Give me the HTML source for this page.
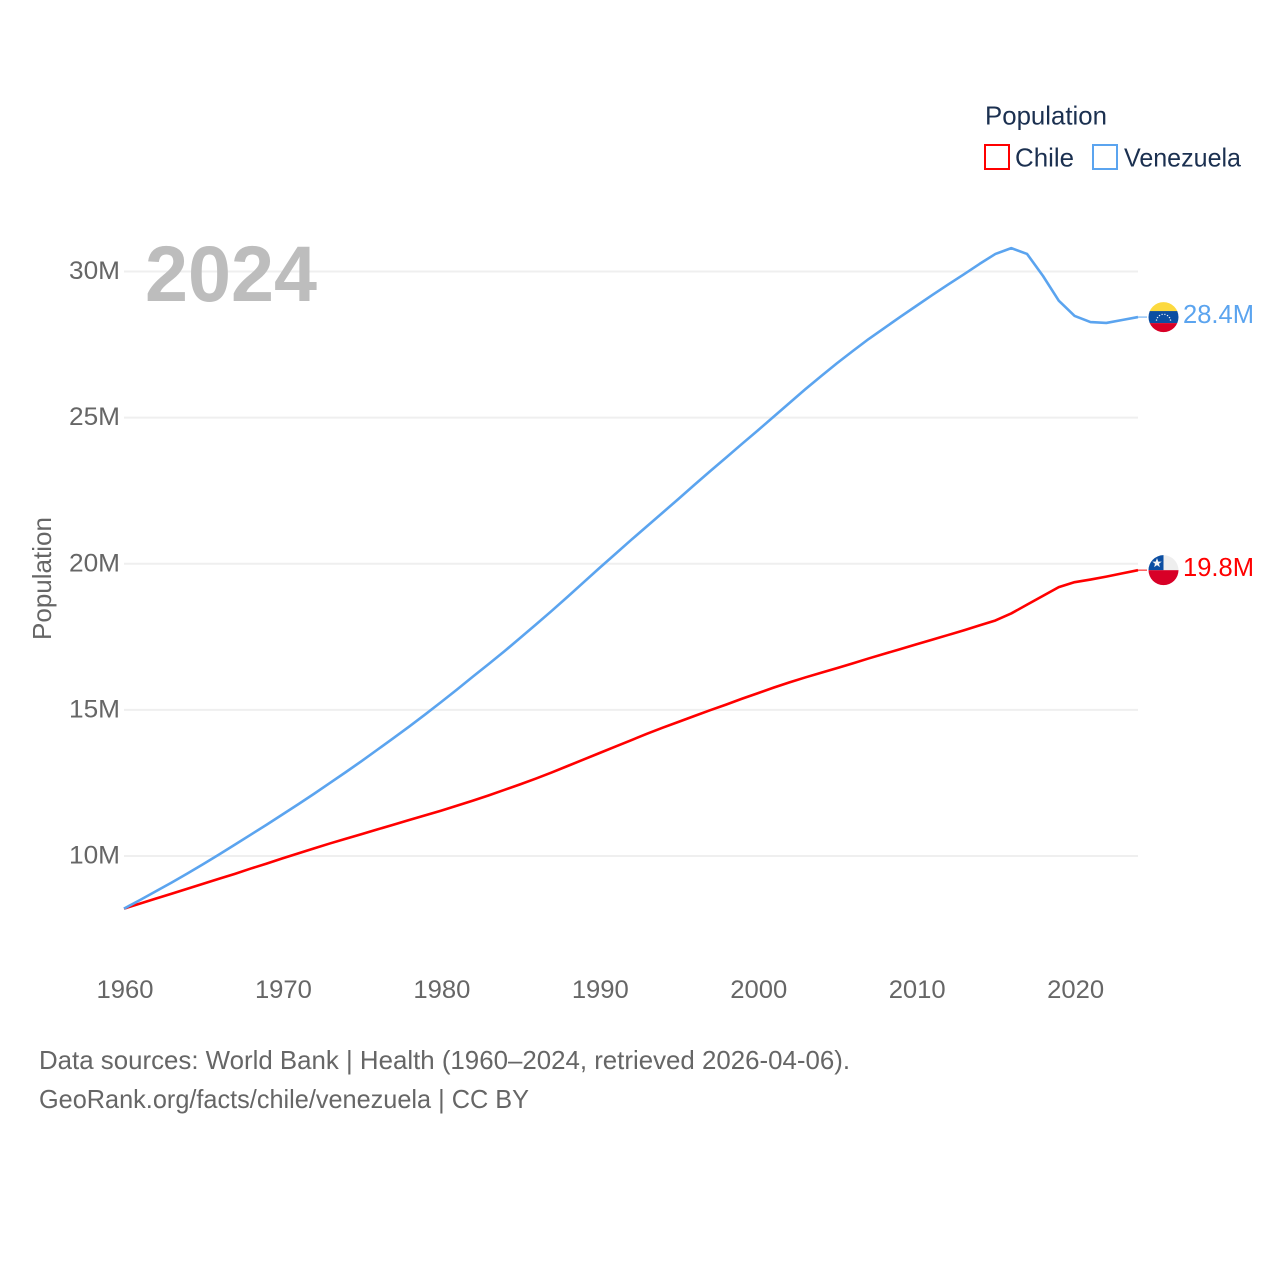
<!DOCTYPE html>
<html lang="en">
<head>
<meta charset="utf-8">
<title>Population: Chile and Venezuela</title>
<style>
html,body{margin:0;padding:0;background:#fff;width:1280px;height:1280px;overflow:hidden}
svg{display:block}
text{font-family:"Liberation Sans",Arial,sans-serif}
</style>
</head>
<body>
<svg id="chart" width="1280" height="1280" viewBox="0 0 1280 1280" xmlns="http://www.w3.org/2000/svg">
  <defs>
    <clipPath id="flag-clip"><circle cx="0" cy="0" r="15"></circle></clipPath>
  </defs>
  <g id="grid"></g>
  <g id="y-ticks"></g>
  <g id="x-ticks"></g>
  <text x="145" y="301" font-size="79" font-weight="700" fill="#bdbdbd" textLength="172" lengthAdjust="spacingAndGlyphs">2024</text>
  <text transform="translate(51,640) rotate(-90)" font-size="26" fill="#666" textLength="123" lengthAdjust="spacingAndGlyphs">Population</text>
  <g id="series"></g>

  <g>
    <text x="985" y="124.5" font-size="26" fill="#1b3050" textLength="122" lengthAdjust="spacingAndGlyphs">Population</text>
    <g>
      <rect x="985" y="145" width="24" height="24" fill="none" stroke="#ff0000" stroke-width="2"></rect>
      <text x="1015" y="166.5" font-size="26" fill="#1b3050" textLength="59" lengthAdjust="spacingAndGlyphs">Chile</text>
    </g>
    <g>
      <rect x="1093" y="145" width="24" height="24" fill="none" stroke="#5ba4ef" stroke-width="2"></rect>
      <text x="1124" y="166.5" font-size="26" fill="#1b3050" textLength="117" lengthAdjust="spacingAndGlyphs">Venezuela</text>
    </g>
  </g>

  <g id="flag-venezuela">
    <g clip-path="url(#flag-clip)">
      <rect x="-16" y="-16" width="32" height="10.5" fill="#fcd93f"></rect>
      <rect x="-16" y="-6" width="32" height="12" fill="#0b4ea2"></rect>
      <rect x="-16" y="6" width="32" height="10" fill="#d80027"></rect>
      <g fill="#e8eef7">
        <circle cx="-7" cy="3" r="0.7"></circle><circle cx="-6" cy="0.5" r="0.7"></circle>
        <circle cx="-4" cy="-1.5" r="0.7"></circle><circle cx="-1.4" cy="-2.7" r="0.7"></circle>
        <circle cx="1.4" cy="-2.7" r="0.7"></circle><circle cx="4" cy="-1.5" r="0.7"></circle>
        <circle cx="6" cy="0.5" r="0.7"></circle><circle cx="7" cy="3" r="0.7"></circle>
      </g>
    </g>
  </g>
  <g id="flag-chile">
    <g clip-path="url(#flag-clip)">
      <rect x="-16" y="-16" width="32" height="16" fill="#eeeeee"></rect>
      <rect x="-16" y="-16" width="16" height="16" fill="#0b4ea2"></rect>
      <rect x="-16" y="0" width="32" height="16" fill="#d80027"></rect>
      <polygon points="-6.5,-12 -5.2,-8.6 -1.8,-8.6 -4.5,-6.4 -3.6,-3 -6.5,-5 -9.4,-3 -8.5,-6.4 -11.2,-8.6 -7.8,-8.6" fill="#f4f4f4"></polygon>
    </g>
  </g>
  <g id="value-labels"></g>

  <g>
    <text x="39" y="1069" font-size="26" fill="#666" textLength="811" lengthAdjust="spacingAndGlyphs">Data sources: World Bank | Health (1960–2024, retrieved 2026-04-06).</text>
    <text x="39" y="1108" font-size="26" fill="#666" textLength="490" lengthAdjust="spacingAndGlyphs">GeoRank.org/facts/chile/venezuela | CC BY</text>
  </g>
</svg>
<script>
const years = [1960,1961,1962,1963,1964,1965,1966,1967,1968,1969,1970,1971,1972,1973,1974,1975,1976,1977,1978,1979,1980,1981,1982,1983,1984,1985,1986,1987,1988,1989,1990,1991,1992,1993,1994,1995,1996,1997,1998,1999,2000,2001,2002,2003,2004,2005,2006,2007,2008,2009,2010,2011,2012,2013,2014,2015,2016,2017,2018,2019,2020,2021,2022,2023,2024];
const chile = [8.2,8.37,8.54,8.71,8.88,9.05,9.22,9.39,9.57,9.74,9.92,10.09,10.26,10.43,10.59,10.75,10.91,11.07,11.23,11.39,11.55,11.72,11.89,12.07,12.26,12.45,12.65,12.86,13.08,13.3,13.52,13.74,13.96,14.18,14.39,14.59,14.79,14.99,15.18,15.38,15.57,15.76,15.94,16.11,16.27,16.43,16.59,16.76,16.92,17.08,17.24,17.4,17.56,17.72,17.89,18.06,18.3,18.6,18.9,19.2,19.37,19.46,19.56,19.67,19.78];
const venezuela = [8.2,8.49,8.79,9.09,9.4,9.72,10.05,10.39,10.73,11.07,11.42,11.77,12.13,12.5,12.87,13.25,13.64,14.03,14.43,14.84,15.26,15.69,16.13,16.56,17.0,17.46,17.92,18.39,18.87,19.36,19.85,20.33,20.81,21.28,21.75,22.22,22.7,23.17,23.63,24.1,24.56,25.03,25.5,25.97,26.42,26.86,27.28,27.69,28.07,28.45,28.82,29.19,29.55,29.9,30.26,30.6,30.8,30.6,29.85,29.0,28.48,28.27,28.24,28.34,28.44];
const yTickValues = [10,15,20,25,30];
const yTickLabels = ['10M','15M','20M','25M','30M'];
const xTickValues = [1960,1970,1980,1990,2000,2010,2020];
const endLabels = ['19.8M','28.4M'];

const SVG_NS = 'http://www.w3.org/2000/svg';
function xScale(year) { return 124 + (year - 1960) * (1138 - 124) / 64; }
function yScale(value) { return 856 - (value - 10) * (856 - 271.5) / 20; }
function make(tag, parent, attrs) {
  const el = document.createElementNS(SVG_NS, tag);
  for (const key in attrs) el.setAttribute(key, attrs[key]);
  parent.appendChild(el);
  return el;
}

const gridGroup = document.getElementById('grid');
const yTickGroup = document.getElementById('y-ticks');
yTickValues.forEach(function (value, i) {
  const line = make('line', gridGroup, { x1: 124, x2: 1138, y1: yScale(value), y2: yScale(value), stroke: '#efefef', 'stroke-width': 2 });
  
  
  const label = make('text', yTickGroup, { x: 120, y: yScale(value) + 7.5, 'text-anchor': 'end', 'font-size': 25, fill: '#666', textLength: 51, lengthAdjust: 'spacingAndGlyphs' });
  label.textContent = yTickLabels[i];
  
  
});

const xTickGroup = document.getElementById('x-ticks');
xTickValues.forEach(function (year) {
  const label = make('text', xTickGroup, { x: xScale(year) + 1, y: 998, 'text-anchor': 'middle', 'font-size': 25, fill: '#666', textLength: 57, lengthAdjust: 'spacingAndGlyphs' });
  label.textContent = String(year);
  
  
});

function drawSeries(values, color, seriesName) {
  const group = document.getElementById('series');
  const points = values.map(function (v, i) { return xScale(years[i]).toFixed(2) + ',' + yScale(v).toFixed(2); }).join(' ');
  const line = make('polyline', group, { points: points, fill: 'none', stroke: color, 'stroke-width': 2.6, 'stroke-linejoin': 'round' });
  
  
  const lastY = yScale(values[values.length - 1]);
  const stub = make('line', group, { x1: 1138, x2: 1147, y1: lastY, y2: lastY, stroke: color, 'stroke-width': 1.4, opacity: 0.7 });
  
  
  return lastY;
}

const chileEnd = drawSeries(chile, '#ff0000', 'chile');
const venezuelaEnd = drawSeries(venezuela, '#5ba4ef', 'venezuela');

document.getElementById('flag-chile').setAttribute('transform', 'translate(1163.5,' + chileEnd + ')');
document.getElementById('flag-venezuela').setAttribute('transform', 'translate(1163.5,' + venezuelaEnd + ')');

const valueGroup = document.getElementById('value-labels');
const chileLabel = make('text', valueGroup, { x: 1183, y: chileEnd + 6, 'font-size': 26, fill: '#ff0000', textLength: 71, lengthAdjust: 'spacingAndGlyphs' });
chileLabel.textContent = endLabels[0];


const venezuelaLabel = make('text', valueGroup, { x: 1183, y: venezuelaEnd + 6, 'font-size': 26, fill: '#5ba4ef', textLength: 71, lengthAdjust: 'spacingAndGlyphs' });
venezuelaLabel.textContent = endLabels[1];


</script>
</body>
</html>
